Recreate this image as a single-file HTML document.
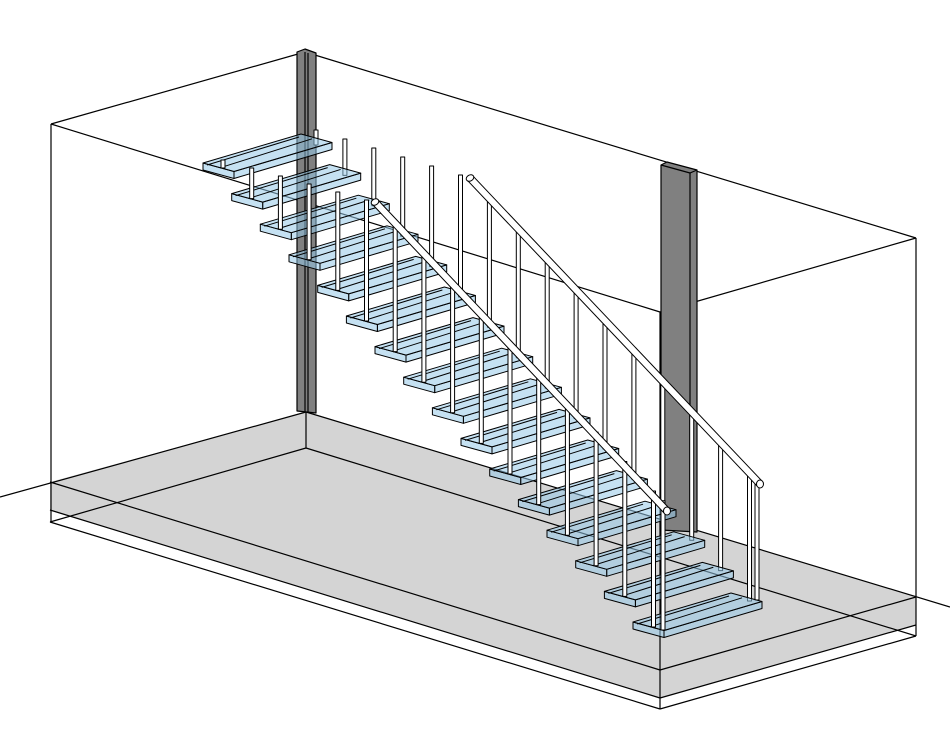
<!DOCTYPE html>
<html><head><meta charset="utf-8"><style>html,body{margin:0;padding:0;background:#fff}svg{display:block}</style></head>
<body>
<svg id="s" width="950" height="734" viewBox="0 0 950 734" xmlns="http://www.w3.org/2000/svg" stroke-linejoin="round">
<g id="floor" stroke="#000" stroke-width="1.2">
<polygon points="50,482 306,412 916,597 660,670" fill="#d4d4d4" stroke="none"/>
<polygon points="50,482 660,670 660,698 50,510" fill="#d4d4d4" stroke="none"/>
<polygon points="660,670 916,597 916,625 660,698" fill="#d4d4d4" stroke="none"/>
<line x1="0" y1="497" x2="306" y2="412"/>
<line x1="306" y1="412" x2="950" y2="607"/>
<line x1="50" y1="482" x2="660" y2="670"/>
<line x1="660" y1="670" x2="916" y2="597"/>
<line x1="50" y1="510" x2="660" y2="698"/>
<line x1="660" y1="698" x2="916" y2="625"/>
<line x1="50" y1="522" x2="660" y2="709"/>
<line x1="660" y1="709" x2="916" y2="636"/>
<line x1="306" y1="448" x2="50" y2="522"/>
<line x1="306" y1="448" x2="916" y2="636"/>
<line x1="306" y1="412" x2="306" y2="448"/>
<line x1="51" y1="124" x2="51" y2="522"/>
<line x1="660" y1="312" x2="660" y2="709"/>
<line x1="916" y1="238" x2="916" y2="636"/>
<line x1="51" y1="124" x2="305" y2="52"/>
<line x1="305" y1="52" x2="916" y2="238"/>
<line x1="51" y1="124" x2="660" y2="312"/>
<line x1="660" y1="312" x2="916" y2="238"/>
</g>
<g stroke="#000" stroke-width="1.2">
<polygon points="297,52 305,49 316,53 316,413 297,411" fill="#808080"/>
<line x1="305" y1="52" x2="305" y2="412"/>
<line x1="308" y1="53" x2="308" y2="412"/>
<polygon points="661,165 667,162 697,170 697,532 661,530" fill="#808080"/>
<line x1="661" y1="165" x2="690" y2="173"/>
<line x1="690" y1="173" x2="697" y2="170"/>
<line x1="690" y1="173" x2="690" y2="532"/>
</g>
<g id="back"></g>
<g id="treads"></g>
<g id="front"></g>
</svg>
<script>
(function(){
var NS="http://www.w3.org/2000/svg";
function el(p,t,a){var e=document.createElementNS(NS,t);for(var k in a)e.setAttribute(k,a[k]);p.appendChild(e);return e;}
function bal(g,x,y1,y2){el(g,"rect",{x:x-2,y:y1,width:4,height:y2-y1,fill:"#fff",stroke:"#000","stroke-width":1});}
function rail(g,x1,y1,x2,y2){el(g,"line",{x1:x1,y1:y1,x2:x2,y2:y2,stroke:"#000","stroke-width":8,"stroke-linecap":"butt"});
el(g,"line",{x1:x1,y1:y1,x2:x2,y2:y2,stroke:"#fff","stroke-width":6});
el(g,"ellipse",{cx:x2,cy:y2,rx:3.5,ry:4,fill:"#fff",stroke:"#000","stroke-width":1});
el(g,"ellipse",{cx:x1,cy:y1,rx:4,ry:3,fill:"#fff",stroke:"#000","stroke-width":1,transform:"rotate(-30 "+x1+" "+y1+")"});}
var back=document.getElementById("back"),tr=document.getElementById("treads"),fr=document.getElementById("front");
function by(x){return 178+(x-470)*1.05;}
function fy(x){return 202+(x-375)*1.027;}
var j,i,x,base,tp;
for(j=0;j<16;j++){x=316+28.9*j;base=145+30.4*j;tp=j<=5?130+9*j:by(x)+3;bal(back,x,tp,base);}
bal(back,757,by(757)+3,600);
rail(back,470,178,760,484);
var W=[98,-29],D=[31,8.5],T=7;
function pt(p){return p[0].toFixed(1)+","+p[1].toFixed(1);}
for(i=0;i<16;i++){
var p0=[203+28.67*i,163+30.6*i],p1=[p0[0]+W[0],p0[1]+W[1]],p2=[p1[0]+D[0],p1[1]+D[1]],p3=[p0[0]+D[0],p0[1]+D[1]];
var g=el(tr,"g",{fill:"rgb(150,200,232)","fill-opacity":"0.55",stroke:"#000","stroke-width":1});
el(g,"polygon",{points:[pt(p3),pt(p2),pt([p2[0],p2[1]+T]),pt([p3[0],p3[1]+T])].join(" ")});
el(g,"polygon",{points:[pt(p0),pt(p3),pt([p3[0],p3[1]+T]),pt([p0[0],p0[1]+T])].join(" ")});
el(g,"polygon",{points:[pt(p0),pt(p1),pt(p2),pt(p3)].join(" ")});
var a=[p0[0]+4,p0[1]+2],b=[p1[0]-2,p1[1]+3];
el(g,"line",{x1:a[0],y1:a[1],x2:b[0],y2:b[1]});
var c=[p0[0]+D[0]*0.45+3,p0[1]+D[1]*0.45+1],d=[p1[0]+D[0]*0.45-3,p1[1]+D[1]*0.45+1];
el(g,"line",{x1:c[0],y1:c[1],x2:d[0],y2:d[1]});
}
for(i=0;i<16;i++){x=223+28.7*i;base=168+30.6*i;tp=i<=5?160+8*i:fy(x)+3;bal(fr,x,tp,base);}
bal(fr,663,fy(663)+3,630);
rail(fr,375,202,667,511);
})();
</script>
</body></html>
